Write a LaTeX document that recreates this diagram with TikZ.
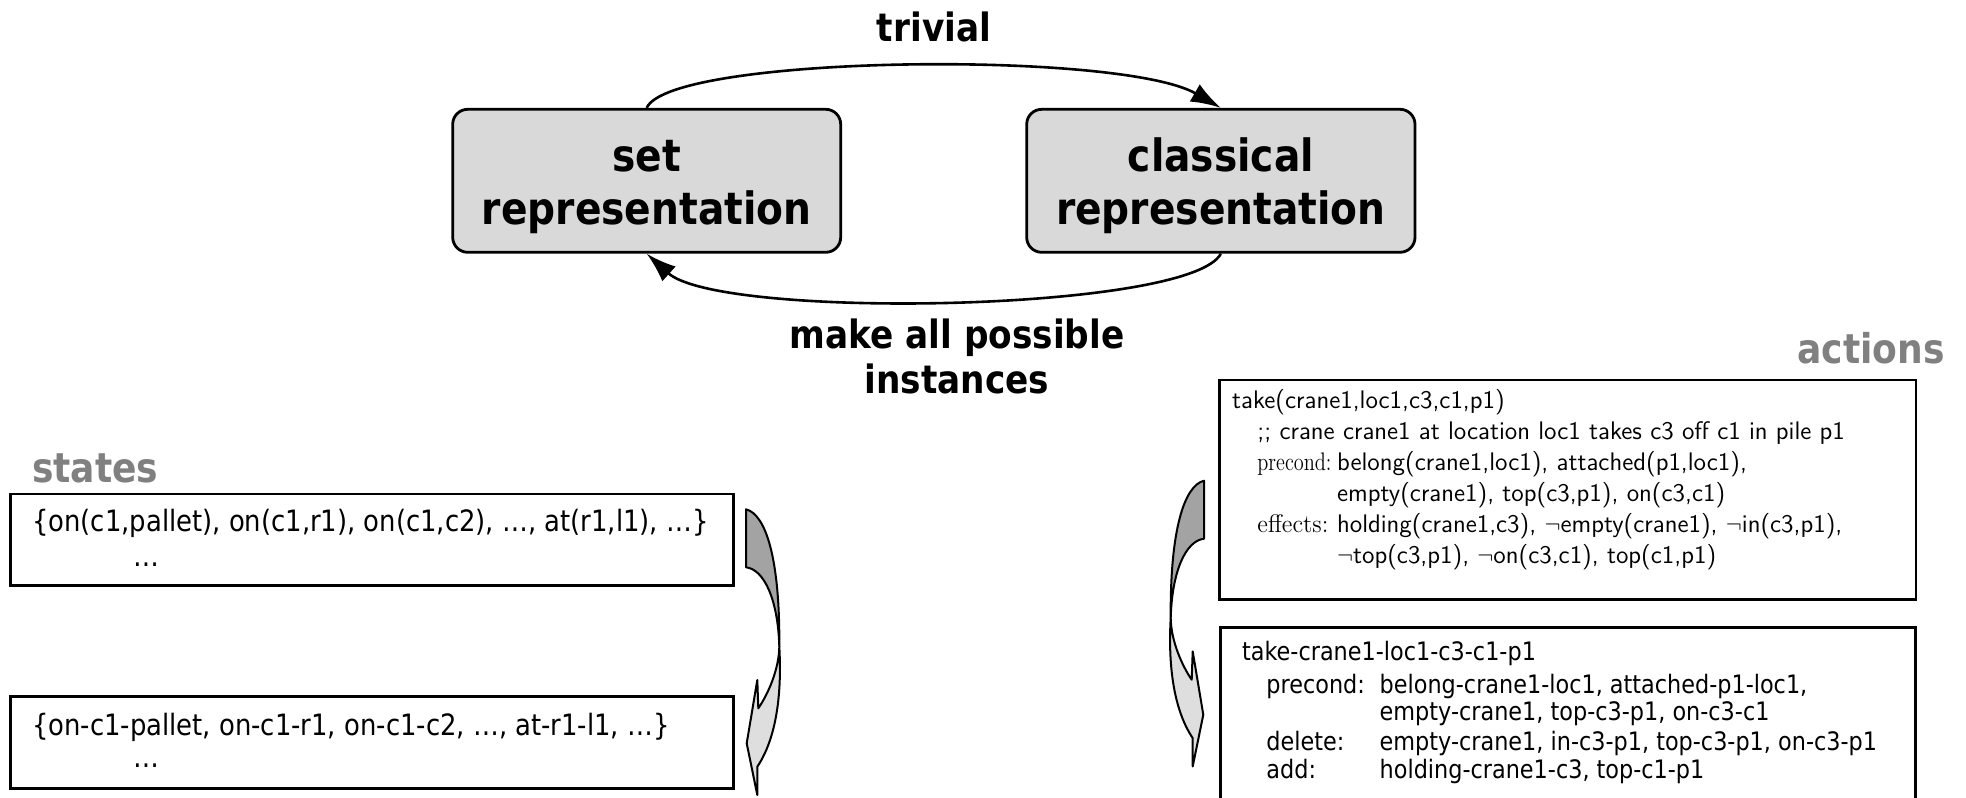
\documentclass[tikz,border=0pt]{standalone}
\usepackage{fontspec}
\usepackage{graphicx}
\usetikzlibrary{arrows.meta}
% Tahoma-like face: DejaVu Sans set a little narrower
\newfontfamily\tahoma[FakeStretch=0.88]{DejaVu Sans}
\definecolor{boxgray}{gray}{0.85}
\definecolor{labelgray}{gray}{0.5}
\definecolor{ribbondark}{gray}{0.64}
\definecolor{ribbonlight}{gray}{0.87}

\tikzset{
  reprbox/.style={draw, line width=1.4pt, fill=boxgray, rounded corners=7.5pt,
    inner sep=0pt, minimum width=194pt, minimum height=71.5pt},
  plainbox/.style={draw, line width=1.3pt, inner sep=0pt},
  conn/.style={line width=1.3pt, -{Latex[length=15pt,width=10pt]}},
  title/.style={font=\tahoma\bfseries\fontsize{22.25pt}{26pt}\selectfont, inner sep=0pt, anchor=base},
  lab/.style={font=\tahoma\bfseries\fontsize{19.5pt}{23pt}\selectfont, inner sep=0pt, anchor=base},
  glab/.style={font=\tahoma\bfseries\fontsize{20.5pt}{24pt}\selectfont, text=labelgray, inner sep=0pt},
  stxt/.style={font=\tahoma\fontsize{14.7pt}{17pt}\selectfont, inner sep=0pt, anchor=base west},
  atxt/.style={font=\sffamily\fontsize{12.7pt}{15pt}\selectfont, inner sep=0pt, anchor=base west},
  akey/.style={font=\rmfamily\fontsize{12.7pt}{15pt}\selectfont, inner sep=0pt, anchor=base west},
  btxt/.style={font=\tahoma\fontsize{12.7pt}{15pt}\selectfont, inner sep=0pt, anchor=base west},
  ribbon/.style={draw, line width=1pt, line join=round}
}

\begin{document}
\begin{tikzpicture}[x=0.5pt, y=-0.5pt]
\useasboundingbox (0,0) rectangle (1966,798);
\clip (0,0) rectangle (1966,798);

% --- the two representations and the translations between them ---
\node[reprbox] (setbox) at (646.7,180.8) {};
\node[reprbox, minimum width=194.15pt] (classical) at (1220.85,180.8) {};
\node[title] (settop) at (646.7,171.7) {set};
\node[title] (setbot) at (646.7,224.7) {representation};
\node[title] (clatop) at (1220.85,171.7) {classical};
\node[title] (clabot) at (1220.85,224.7) {representation};

\draw[conn] (setbox.north) .. controls (670,55) and (1120,50) .. (classical.north);
\draw[conn] (classical.south) .. controls (1190,312) and (720,320) .. (setbox.south);

\node[lab] (trivial) at (934,41.4) {trivial};
\node[lab] (make) at (957,348.6) {make all possible};
\node[lab] (inst) at (957,393.7) {instances};

% --- states ---
\node[glab, anchor=base west] (states) at (31.7,482.7) {states};
\node[plainbox, minimum width=361.4pt, minimum height=45.85pt] (s1) at (372.1,539.85) {};
\node[plainbox, minimum width=361.4pt, minimum height=45.85pt] (s2) at (372.1,742.35) {};
\node[stxt] (s1a) at (31.7,531.7) {\{on(c1,pallet), on(c1,r1), on(c1,c2), …, at(r1,l1), …\}};
\node[stxt] (s1b) at (133,566) {…};
\node[stxt] (s2a) at (31.7,735) {\{on-c1-pallet, on-c1-r1, on-c1-c2, …, at-r1-l1, …\}};
\node[stxt] (s2b) at (133,767) {…};

% --- actions ---
\node[glab, anchor=base east] (actions) at (1945,363) {actions};
\node[plainbox, minimum width=348.35pt, minimum height=109.65pt] (a1) at (1567.65,489.65) {};
\node[plainbox, line width=1.5pt, minimum width=347.65pt, minimum height=101.35pt] (a2) at (1567.65,728.65) {};

\node[atxt] (a1l1) at (1231.7,408) {take(crane1,loc1,c3,c1,p1)};
\node[atxt] (a1l2) at (1257,439) {;; crane crane1 at location loc1 takes c3 off c1 in pile p1};
\node[akey] (a1pre) at (1257,470) {\scalebox{0.8}[1]{precond:}};
\node[atxt] (a1l3) at (1336.7,470) {belong(crane1,loc1), attached(p1,loc1),};
\node[atxt] (a1l4) at (1336.7,501) {empty(crane1), top(c3,p1), on(c3,c1)};
\node[akey] (a1eff) at (1257,532) {\scalebox{0.96}[1]{effects:}};
\node[atxt] (a1l5) at (1336.7,532) {holding(crane1,c3), $\neg$empty(crane1), $\neg$in(c3,p1),};
\node[atxt] (a1l6) at (1336.7,563) {$\neg$top(c3,p1), $\neg$on(c3,c1), top(c1,p1)};

\node[btxt] (a2l1) at (1241.7,660.5) {take-crane1-loc1-c3-c1-p1};
\node[btxt] (a2pre) at (1266,693) {precond:};
\node[btxt] (a2l2) at (1379.3,693) {belong-crane1-loc1, attached-p1-loc1,};
\node[btxt] (a2l3) at (1379.3,720) {empty-crane1, top-c3-p1, on-c3-c1};
\node[btxt] (a2del) at (1266,750) {delete:};
\node[btxt] (a2l4) at (1379.3,750) {empty-crane1, in-c3-p1, top-c3-p1, on-c3-p1};
\node[btxt] (a2add) at (1266,778.5) {add:};
\node[btxt] (a2l5) at (1379.3,778.5) {holding-crane1-c3, top-c1-p1};

% --- curved ribbon arrows (back face darker, front face lighter) ---
\begin{scope}[shift={(746,509.3)}]
  \filldraw[ribbon, fill=ribbondark] (0,0) .. controls (20,5) and (34,50) .. (33.3,137.4)
    .. controls (32,90) and (18,60) .. (0,58) -- cycle;
  \filldraw[ribbon, fill=ribbonlight] (33.3,137.4) .. controls (35.5,175) and (33,225) .. (11.3,257.4)
    -- (11.3,285.7) -- (0.7,234) -- (11.3,170.7) -- (12.3,199)
    .. controls (22,185) and (33,160) .. (33.3,137.4) -- cycle;
\end{scope}
\begin{scope}[shift={(1204,480.7)}, xscale=-1]
  \filldraw[ribbon, fill=ribbondark] (0,0) .. controls (20,5) and (34,50) .. (33.3,137.4)
    .. controls (32,90) and (18,60) .. (0,58) -- cycle;
  \filldraw[ribbon, fill=ribbonlight] (33.3,137.4) .. controls (35.5,175) and (33,225) .. (11.3,257.4)
    -- (11.3,285.7) -- (0.7,234) -- (11.3,170.7) -- (12.3,199)
    .. controls (22,185) and (33,160) .. (33.3,137.4) -- cycle;
\end{scope}
\end{tikzpicture}
\end{document}
